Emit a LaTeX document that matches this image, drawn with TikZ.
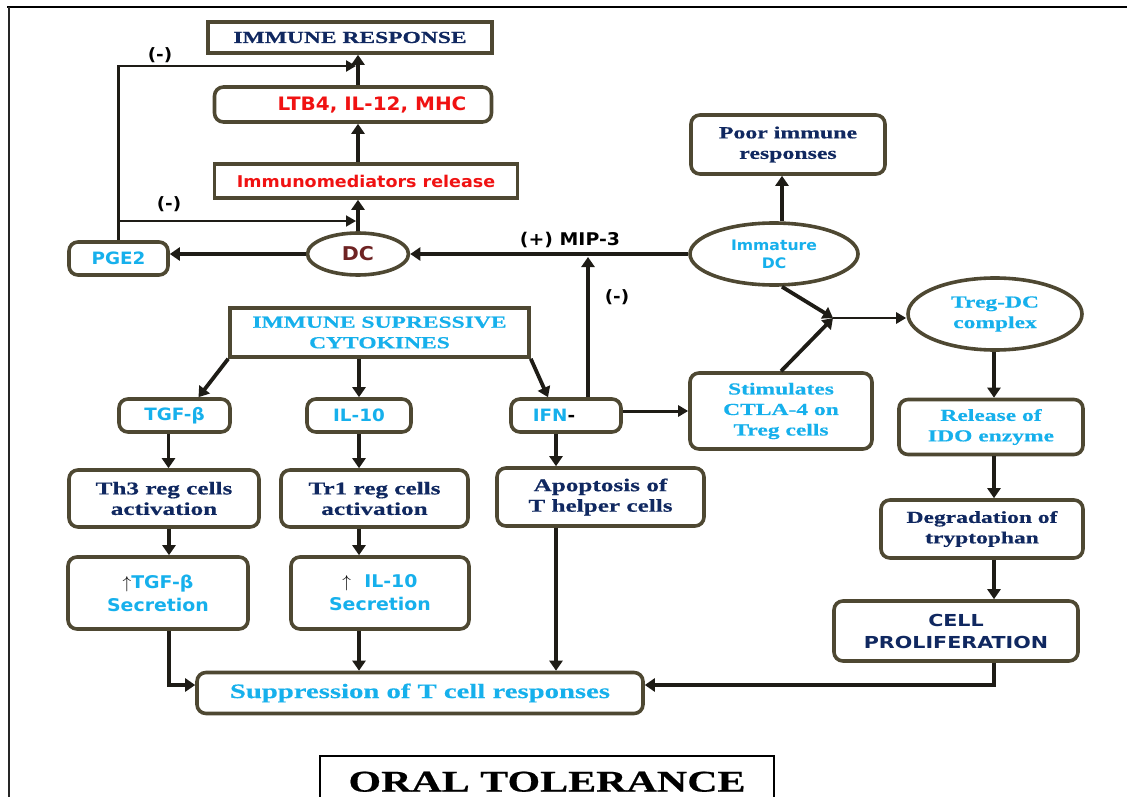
\documentclass[tikz,border=0pt]{standalone}
\usepackage{fontspec}
\usetikzlibrary{arrows.meta,shapes.geometric}
\newfontfamily\srf[FakeStretch=1.4,FakeBold=0.5]{Liberation Serif}
\newfontfamily\snf[FakeStretch=1.08]{DejaVu Sans}
\newfontfamily\snw[FakeStretch=1.25]{DejaVu Sans}
\newcommand\SR[1]{\srf\bfseries\fontsize{#1}{20.5}\selectfont}
\newcommand\SN[1]{\snf\bfseries\fontsize{#1}{23}\selectfont}
\newcommand\SW[1]{\snw\bfseries\fontsize{#1}{22}\selectfont}
\definecolor{navy}{RGB}{16,40,96}
\definecolor{cyanc}{RGB}{22,176,236}
\definecolor{redc}{RGB}{240,18,18}
\definecolor{maroon}{RGB}{110,35,35}
\definecolor{bord}{RGB}{78,72,50}
\definecolor{arc}{RGB}{30,28,22}
\tikzset{
  bx/.style={draw=bord, line width=3.6pt, fill=white, inner sep=0pt, align=center},
  rb/.style={bx, rounded corners=9pt},
  el/.style={draw=bord, line width=3.6pt, fill=white, ellipse, inner sep=0pt, align=center},
  ar/.style={draw=arc, line width=3.8pt, -{Triangle[length=10pt,width=13pt]}},
  ar2/.style={draw=arc, line width=2.5pt, -{Triangle[length=10pt,width=11pt]}},
  lbl/.style={inner sep=0pt, text=black, font=\SN{17}}
}
\begin{document}
\begin{tikzpicture}[x=1pt,y=-1pt]
\useasboundingbox (0,0) rectangle (1127,797);
% frame
\draw[line width=2.5pt] (7,7) -- (1127,7);
\draw[line width=1.3pt, black!85] (9,7) -- (9,797);

% nodes
\node[bx, minimum width=284pt, minimum height=31pt, text=navy, font=\SR{16.8}] (ir) at (350,37.5) {IMMUNE RESPONSE};
\node[rb, minimum width=277pt, minimum height=35pt, text=redc, font=\SN{18.5}] (ltb) at (353,104.5) {\hspace*{38pt}LTB4, IL-12, MHC};
\node[bx, minimum width=303pt, minimum height=34pt, text=redc, font=\SN{16.2}] (imr) at (366,181) {Immunomediators release};
\node[el, minimum width=101pt, minimum height=42pt, text=maroon, font=\SN{19}] (dc) at (358,254) {DC};
\node[rb, minimum width=99pt, minimum height=33pt, text=cyanc, font=\SN{17}] (pge) at (118.5,258.5) {PGE2};
\node[rb, minimum width=194pt, minimum height=59pt, text=navy, font=\SR{17}] (poor) at (788,144.5) {Poor immune\\responses};
\node[el, minimum width=168pt, minimum height=62pt, text=cyanc, font=\snf\bfseries\fontsize{14.5}{18}\selectfont] (imdc) at (774,254) {Immature\\DC};
\node[el, minimum width=174pt, minimum height=72pt, text=cyanc, font=\SR{16.8}] (treg) at (995,314) {Treg-DC\\complex};
\node[bx, minimum width=299pt, minimum height=49pt, text=cyanc, font=\SR{16.8}] (isc) at (379.5,332.5) {IMMUNE SUPRESSIVE\\CYTOKINES};
\node[rb, minimum width=111pt, minimum height=33pt, text=cyanc, font=\SN{17}] (tgf) at (174.5,415.5) {TGF-β};
\node[rb, minimum width=104pt, minimum height=33pt, text=cyanc, font=\SN{17}] (il10) at (359,415.5) {IL-10};
\node[rb, minimum width=110pt, minimum height=33pt, text=cyanc, font=\SN{17}] (ifn) at (566,415.5) {IFN{\color{black}-}\hspace*{24pt}};
\node[rb, minimum width=182pt, minimum height=76pt, text=cyanc, font=\SR{16.8}] (stim) at (781,411) {Stimulates\\CTLA-4 on\\Treg cells};
\node[rb, minimum width=184pt, minimum height=55pt, text=cyanc, font=\SR{16.8}] (ido) at (991,427) {Release of\\IDO enzyme};
\node[rb, minimum width=202pt, minimum height=58pt, text=navy, font=\SR{16.8}] (deg) at (982,529) {Degradation of\\tryptophan};
\node[rb, minimum width=244pt, minimum height=60pt, text=navy, font=\SW{16.5}] (cell) at (956,631) {CELL\\PROLIFERATION};
\node[rb, minimum width=190pt, minimum height=57pt, text=navy, font=\SR{18}] (th3) at (164,498.5) {Th3 reg cells\\activation};
\node[rb, minimum width=187pt, minimum height=57pt, text=navy, font=\SR{18}] (tr1) at (374.5,498.5) {Tr1 reg cells\\activation};
\node[rb, minimum width=207pt, minimum height=58pt, text=navy, font=\SR{18}] (apo) at (600.5,497) {Apoptosis of\\T helper cells};
\node[rb, minimum width=180pt, minimum height=72pt, text=cyanc, font=\SN{17.5}] (tgfs) at (158,593) {{\color{black}$\uparrow$}TGF-β\\Secretion};
\node[rb, minimum width=178pt, minimum height=72pt, text=cyanc, font=\SN{17.5}] (il10s) at (380,593) {{\color{black}$\uparrow$}\ \ IL-10\\Secretion};
\node[rb, minimum width=446pt, minimum height=41pt, text=cyanc, font=\SR{20.5}] (sup) at (420,693) {Suppression of T cell responses};
\node[draw=black, line width=1.5pt, inner sep=0pt, anchor=north, minimum width=454pt, minimum height=52pt, text=black, font=\SR{30}] (oral) at (547,755) {ORAL TOLERANCE};

% labels
\node[lbl] (m1) at (160,55) {(-)};
\node[lbl] (m2) at (169,204) {(-)};
\node[lbl] (m3) at (617,297) {(-)};
\node[lbl, font=\SN{17.5}] (mip) at (570,240) {(+) MIP-3};

% coordinates
\coordinate (f1) at (356,66);
\coordinate (f2) at (356,221);
\coordinate (mipc) at (588,257);
\coordinate (j) at (833,318);
\coordinate (c1) at (994,685);
\coordinate (xifn) at (556,0);
\coordinate (xt) at (168.5,0);
\coordinate (xs) at (169,0);
\coordinate (xr) at (994,0);
\coordinate (xim) at (782,0);

% connectors
\draw[ar] (dc.north) -- (dc.north |- imr.south);
\draw[ar] (dc.north |- imr.north) -- (dc.north |- ltb.south);
\draw[ar] (dc.north |- ltb.north) -- (dc.north |- ir.south);
\draw[ar] (dc.west) -- (pge.east |- dc.west);
\draw[ar2] (pge.north) |- (f1);
\draw[ar2, line width=1.8pt] (pge.north |- f2) -- (f2);
\draw[ar] (imdc.west) -- (dc.east);
\draw[ar] (ifn.north -| mipc) -- (mipc);
\draw[ar] (xim |- imdc.north) -- (xim |- poor.south);
\draw[ar] (xim |- imdc.south) -- (j);
\draw[ar] (stim.north) -- (j);
\draw[ar2] (j) -- (treg.west |- j);
\draw[ar] (xr |- treg.south) -- (xr |- ido.north);
\draw[ar] (xr |- ido.south) -- (xr |- deg.north);
\draw[ar] (xr |- deg.south) -- (xr |- cell.north);
\draw[ar] (xr |- cell.south) |- (sup.east |- c1);
\draw[ar] (isc.south west) -- ([xshift=24pt]tgf.north);
\draw[ar] (il10.north |- isc.south) -- (il10.north);
\draw[ar] (isc.south east) -- ([xshift=-18pt]ifn.north);
\draw[ar] (xt |- tgf.south) -- (xt |- th3.north);
\draw[ar] (il10.south) -- (il10.south |- tr1.north);
\draw[ar2, line width=3pt] (ifn.east |- stim.west) -- (stim.west);
\draw[ar] (xifn |- ifn.south) -- (xifn |- apo.north);
\draw[ar] (xs |- th3.south) -- (xs |- tgfs.north);
\draw[ar] (il10.south |- tr1.south) -- (il10.south |- il10s.north);
\draw[ar] (xs |- tgfs.south) |- (sup.west |- c1);
\draw[ar] (il10.south |- il10s.south) -- (il10.south |- sup.north);
\draw[ar] (xifn |- apo.south) -- (xifn |- sup.north);
\end{tikzpicture}
\end{document}
